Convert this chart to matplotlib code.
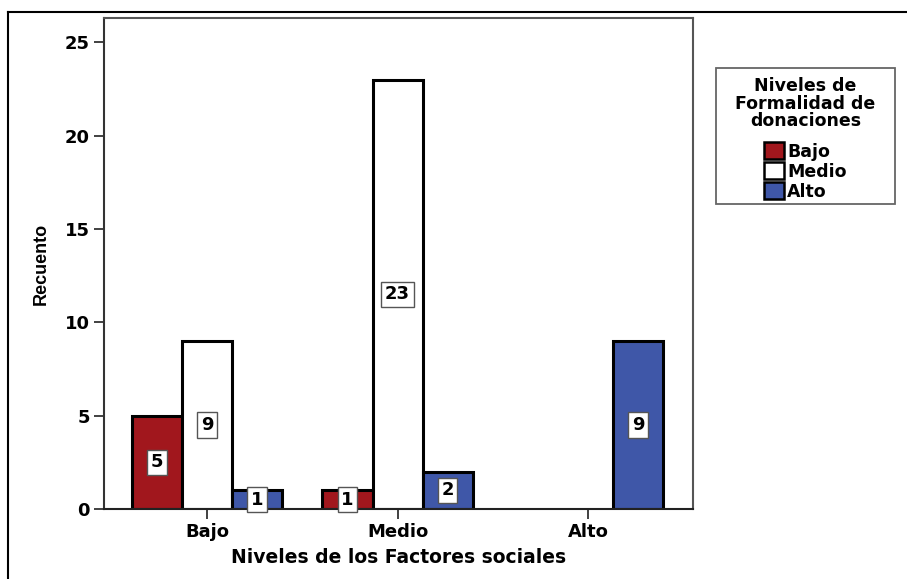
import matplotlib
matplotlib.use("Agg")
import matplotlib.pyplot as plt
import numpy as np
from matplotlib.patches import Patch, Rectangle
from matplotlib.lines import Line2D

categories = ["Bajo", "Medio", "Alto"]
series_names = ["Bajo", "Medio", "Alto"]
bajo_vals = [5, 1, 0]
medio_vals = [9, 23, 0]
alto_vals = [1, 2, 9]
colors = ["#A1171D", "#FFFFFF", "#3F57A8"]
yticks = [0, 5, 10, 15, 20, 25]

plt.rcParams['font.family'] = ['DejaVu Sans']

fig = plt.figure(figsize=(9.07, 5.79), dpi=100)
ax = fig.add_axes([104/907, 70/579, (693-104)/907, (509-18)/579])

x = np.arange(len(categories))
w = 0.2625
all_vals = [bajo_vals, medio_vals, alto_vals]
for i, (vals, col) in enumerate(zip(all_vals, colors)):
    pos = x + (i - 1) * w
    for p, v in zip(pos, vals):
        if v <= 0:
            continue
        ax.bar(p, v, width=w, color=col, edgecolor="black", linewidth=2.2, zorder=2)
        ax.text(p, v / 2, str(v), ha="center", va="center", fontsize=13,
                fontweight="bold", zorder=4,
                bbox=dict(boxstyle="square,pad=0.2", fc="white", ec="#555555", lw=1))

ax.set_xlim(-0.54, 2.55)
ax.set_ylim(0, 26.3)
ax.set_xticks(x)
ax.set_xticklabels(categories, fontsize=13, fontweight="bold")
ax.set_yticks(yticks)
ax.set_yticklabels([str(t) for t in yticks], fontsize=13, fontweight="bold")
ax.tick_params(axis="both", direction="out", length=7, width=1.3, color="#333333", pad=3)
for s in ax.spines.values():
    s.set_color("#555555")
    s.set_linewidth(1.5)
ax.spines["left"].set_color("#333333")
ax.spines["bottom"].set_color("#222222")

ax.set_xlabel("Niveles de los Factores sociales", fontsize=13.5, fontweight="bold", labelpad=5)
ax.set_ylabel("Recuento", fontsize=13, fontweight="bold", labelpad=11,
              family=['Liberation Sans', 'DejaVu Sans'])

# legend frame
lx0, lx1, ly0, ly1 = 716, 895, 68, 204
fig.add_artist(Rectangle((lx0/907, 1 - ly1/579), (lx1-lx0)/907, (ly1-ly0)/579,
                         transform=fig.transFigure, fill=False, ec="#666666", lw=1.3))

handles = [Patch(facecolor=c, edgecolor="black", linewidth=1.8) for c in colors]
leg = fig.legend(handles, series_names, title="Niveles de\nFormalidad de\ndonaciones",
                 loc="center", bbox_to_anchor=((lx0+lx1)/2/907, 1 - ((ly0+ly1)/2 + 3)/579), borderaxespad=0,
                 prop=dict(weight="bold", size=12.5), title_fontproperties=dict(weight="bold", size=12.5),
                 frameon=False,
                 handlelength=1.1, handleheight=1.1, handletextpad=0.2, labelspacing=0.1,
                 borderpad=0.0)
leg._legend_box.align = "center"
leg._legend_box.sep = 9
leg.get_title().set_multialignment("center")
leg.get_title().set_linespacing(0.95)

# outer frame (partially cropped)
fig.add_artist(Line2D([8/907, 8/907], [0, 1 - 12/579], color="black", lw=1.5, transform=fig.transFigure))
fig.add_artist(Line2D([8/907, 1], [1 - 12/579, 1 - 12/579], color="black", lw=1.5, transform=fig.transFigure))

fig.savefig("out.png", dpi=100)
